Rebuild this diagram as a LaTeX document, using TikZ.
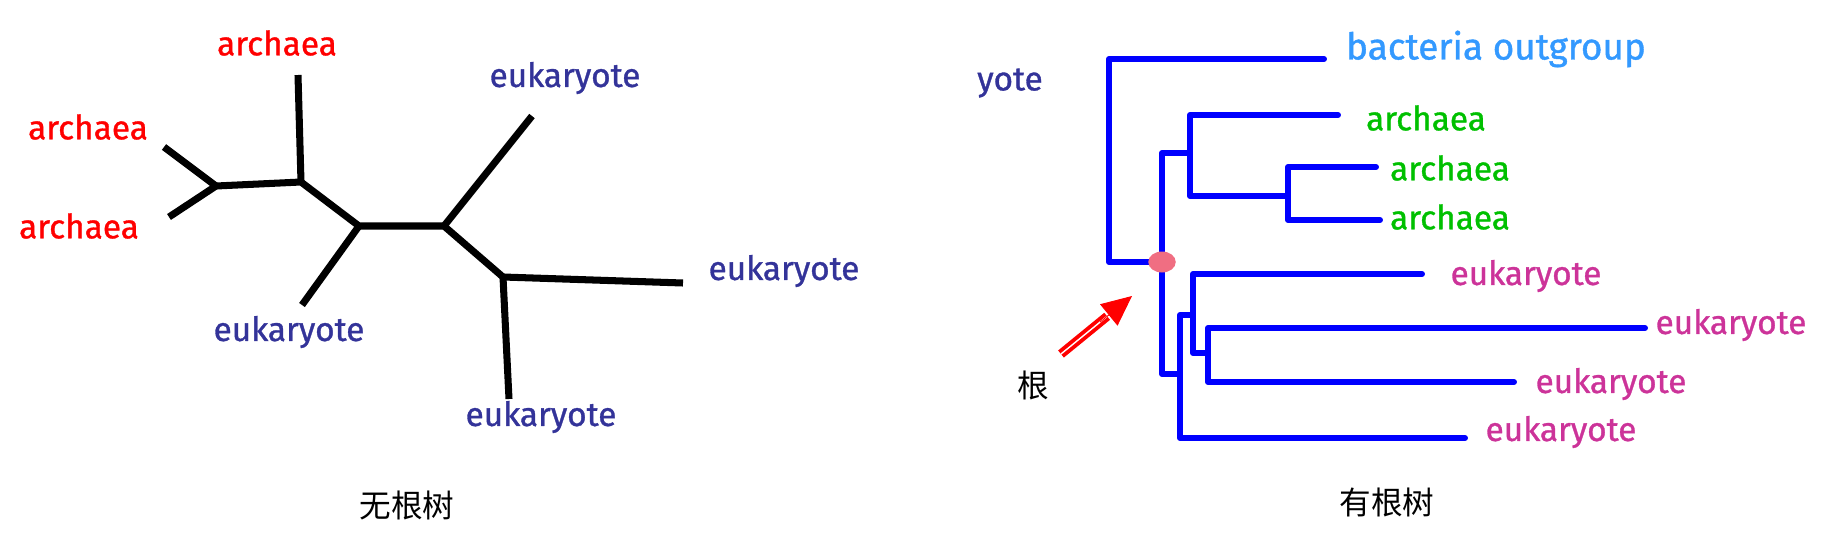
\documentclass[tikz,border=0pt]{standalone}
\usepackage{fontspec}
\setmainfont{Fira Sans}
\newfontfamily\labelfont{Fira Sans}[FakeBold=1]
\newfontfamily\cjk{Noto Sans CJK SC}
\usetikzlibrary{arrows.meta,calc,shapes.geometric}

\definecolor{archred}{HTML}{FF0000}
\definecolor{eunavy}{HTML}{333399}
\definecolor{archgreen}{HTML}{00C000}
\definecolor{eupink}{HTML}{CC3399}
\definecolor{outblue}{HTML}{3399FF}
\definecolor{branchblue}{HTML}{0000FF}
\definecolor{rootpink}{HTML}{F06E82}

\begin{document}
\begin{tikzpicture}[x=0.02cm,y=-0.02cm,
    leaf/.style={font=\labelfont\fontsize{19}{22}\selectfont},
    caption/.style={font=\cjk\fontsize{18}{22}\selectfont},
    unrooted/.style={draw=black,line width=4pt},
    branch/.style={draw=branchblue,line width=3.4pt,line cap=round,line join=round},
    rootdot/.style={ellipse,fill=rootpink,minimum width=0.55cm,minimum height=0.42cm,inner sep=0pt}]
    \useasboundingbox (0,0) rectangle (1827,542);

    % unrooted tree
    \coordinate (A) at (216,186);
    \coordinate (B) at (301,182);
    \coordinate (C) at (359,226);
    \coordinate (D) at (444,226);
    \coordinate (E) at (503,277);
    \coordinate (a1) at (164,147);
    \coordinate (a2) at (169,217);
    \coordinate (a3) at (298,75);
    \coordinate (e1) at (302,305);
    \coordinate (e2) at (532,116);
    \coordinate (e3) at (683,283);
    \coordinate (e4) at (509,399);
    \draw[unrooted] (a1) -- (A) -- (a2);
    \draw[unrooted] (A) -- (B) -- (C) -- (D) -- (E);
    \draw[unrooted] (B) -- (a3);
    \draw[unrooted] (C) -- (e1);
    \draw[unrooted] (D) -- (e2);
    \draw[unrooted] (E) -- (e3);
    \draw[unrooted] (E) -- (e4);
    \node[leaf,text=archred] (la1) at (88,127) {archaea};
    \node[leaf,text=archred] (la2) at (79,226) {archaea};
    \node[leaf,text=archred] (la3) at (277,43) {archaea};
    \node[leaf,text=eunavy] (le1) at (289,332) {eukaryote};
    \node[leaf,text=eunavy] (le2) at (565,78) {eukaryote};
    \node[leaf,text=eunavy] (le3) at (784,271) {eukaryote};
    \node[leaf,text=eunavy] (le4) at (541,417) {eukaryote};
    \node[caption] (cap1) at (407,505) {无根树};

    % rooted tree
    \coordinate (rt) at (1162,262);
    \coordinate (ob) at (1109,59);
    \coordinate (outleaf) at (1324,59);
    \coordinate (ar) at (1190,153);
    \coordinate (aa) at (1288,196);
    \coordinate (ar1) at (1338,115);
    \coordinate (ar2) at (1376,167);
    \coordinate (ar3) at (1380,220);
    \coordinate (eu) at (1180,374);
    \coordinate (en1) at (1193,315);
    \coordinate (en2) at (1208,353);
    \coordinate (eu1) at (1422,274);
    \coordinate (eu2) at (1645,328);
    \coordinate (eu3) at (1514,382);
    \coordinate (eu4) at (1465,438);
    \draw[branch] (rt) -| (ob) -- (outleaf);
    \draw[branch] (ar) -| (rt) |- (eu);
    \draw[branch] (ar) |- (ar1);
    \draw[branch] (ar) |- (aa);
    \draw[branch] (aa) |- (ar2);
    \draw[branch] (aa) |- (ar3);
    \draw[branch] (eu) |- (en1);
    \draw[branch] (eu) |- (eu4);
    \draw[branch] (en1) |- (eu1);
    \draw[branch] (en1) |- (en2);
    \draw[branch] (en2) |- (eu2);
    \draw[branch] (en2) |- (eu3);
    \node[rootdot] (root) at (rt) {};
    \node[leaf,text=eunavy] (yote) at (1010,83) {yote};
    \node[leaf,text=outblue,font=\labelfont\fontsize{21}{24}\selectfont] (lout) at (1496,49) {bacteria outgroup};
    \node[leaf,text=archgreen] (lar1) at (1426,118) {archaea};
    \node[leaf,text=archgreen] (lar2) at (1450,168) {archaea};
    \node[leaf,text=archgreen] (lar3) at (1450,217) {archaea};
    \node[leaf,text=eupink] (leu1) at (1526,276) {eukaryote};
    \node[leaf,text=eupink] (leu2) at (1731,325) {eukaryote};
    \node[leaf,text=eupink] (leu3) at (1611,384) {eukaryote};
    \node[leaf,text=eupink] (leu4) at (1561,432) {eukaryote};

    % root pointer
    \coordinate (tail) at (1061,354);
    \coordinate (tip) at (1132,296);
    \draw[archred,line width=2.2pt,double=white,double distance=0.8pt] (tail) -- ($(tail)!0.65!(tip)$);
    \draw[archred,line width=0.5pt,-{Triangle[length=0.6cm,width=0.55cm]}] ($(tail)!0.55!(tip)$) -- (tip);
    \node[caption] (gen) at (1033,385) {根};
    \node[caption] (cap2) at (1387,502) {有根树};
\end{tikzpicture}
\end{document}
